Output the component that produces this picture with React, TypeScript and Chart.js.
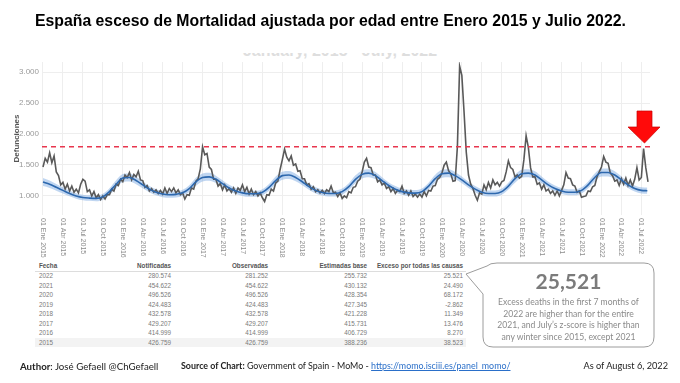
import React, { useEffect, useRef } from "react";
import { Chart, registerables } from "chart.js";
Chart.register(...registerables);

// Observed daily deaths (sampled ~every 10 days: 1st, 11th, 21st of each month)
const obs2015 = [1460, 1600, 1540, 1690, 1530, 1640, 1380, 1320, 1170, 1210, 1100, 1180, 1070, 1150, 1050, 1100, 1040, 1180, 1260, 1230, 1060, 1090, 990, 1060, 960, 1010, 930, 990, 940, 1010, 1010, 1100, 1070, 1180, 1160, 1260];
const obs2016 = [1220, 1330, 1290, 1370, 1250, 1340, 1300, 1390, 1250, 1240, 1130, 1160, 1070, 1110, 1050, 1090, 1030, 1080, 1020, 1120, 1030, 1110, 1060, 1120, 1040, 1090, 1010, 1040, 940, 1010, 1000, 1120, 1100, 1230, 1270, 1430];
const obs2017 = [1790, 1660, 1680, 1460, 1420, 1260, 1260, 1150, 1190, 1090, 1170, 1070, 1110, 1050, 1120, 1030, 1120, 1080, 1170, 1060, 1130, 1020, 1100, 1010, 1060, 990, 1040, 960, 900, 1010, 1000, 1100, 1070, 1200, 1230, 1420];
const obs2018 = [1580, 1750, 1620, 1560, 1640, 1490, 1510, 1390, 1400, 1270, 1270, 1170, 1190, 1100, 1140, 1060, 1090, 1040, 1080, 1030, 1090, 1060, 1150, 1040, 1050, 980, 1040, 950, 990, 960, 1060, 1040, 1130, 1140, 1230, 1260];
const obs2019 = [1380, 1540, 1600, 1460, 1450, 1330, 1330, 1220, 1250, 1170, 1200, 1110, 1140, 1060, 1110, 1030, 1080, 1060, 1150, 1030, 1070, 1000, 1070, 980, 1020, 970, 1020, 970, 1060, 990, 1080, 1070, 1150, 1160, 1260, 1290];
const obs2020 = [1360, 1490, 1540, 1400, 1350, 1230, 1240, 1800, 3100, 2950, 2350, 1700, 1330, 1180, 1110, 1000, 920, 1040, 1020, 1170, 1090, 1210, 1120, 1250, 1170, 1210, 1150, 1220, 1240, 1380, 1560, 1450, 1420, 1300, 1330, 1280];
const obs2021 = [1310, 1580, 1970, 1780, 1450, 1300, 1300, 1180, 1200, 1100, 1170, 1070, 1100, 1030, 1070, 1000, 1070, 990, 1080, 1170, 1370, 1280, 1270, 1170, 1150, 1050, 1070, 970, 980, 990, 1070, 1060, 1140, 1160, 1300, 1380];
const obs2022 = [1460, 1630, 1540, 1520, 1360, 1320, 1230, 1250, 1160, 1270, 1180, 1280, 1160, 1250, 1150, 1260, 1450, 1250, 1290, 1760, 1450, 1220];

// Expected baseline (monthly, Jan 2015 .. Aug 2022) and its confidence band
const baseline = [
  1215, 1180, 1130, 1080, 1030, 990, 965, 955, 950, 975, 1060, 1180,
  1280, 1290, 1240, 1170, 1100, 1050, 1020, 1010, 1015, 1040, 1110, 1220,
  1290, 1300, 1260, 1190, 1120, 1070, 1040, 1025, 1025, 1050, 1130, 1240,
  1320, 1330, 1290, 1220, 1140, 1080, 1045, 1030, 1030, 1060, 1140, 1260,
  1340, 1360, 1320, 1240, 1160, 1100, 1060, 1040, 1035, 1060, 1150, 1270,
  1350, 1360, 1320, 1250, 1170, 1100, 1050, 1030, 1030, 1060, 1150, 1270,
  1350, 1360, 1330, 1250, 1170, 1110, 1070, 1050, 1050, 1080, 1170, 1290,
  1370, 1370, 1330, 1250, 1170, 1110, 1080, 1075,
];
const bandLow = [
  1150, 1120, 1075, 1030, 985, 945, 920, 910, 905, 925, 1005, 1115,
  1215, 1225, 1180, 1115, 1050, 1000, 970, 960, 965, 990, 1055, 1155,
  1225, 1235, 1200, 1135, 1070, 1020, 990, 975, 975, 1000, 1075, 1175,
  1255, 1265, 1230, 1165, 1090, 1030, 995, 980, 980, 1010, 1085, 1195,
  1275, 1295, 1260, 1185, 1110, 1050, 1010, 990, 985, 1010, 1095, 1205,
  1285, 1295, 1260, 1195, 1120, 1050, 1000, 980, 980, 1010, 1095, 1205,
  1285, 1295, 1270, 1195, 1120, 1060, 1020, 1000, 1000, 1030, 1115, 1225,
  1305, 1305, 1270, 1195, 1120, 1060, 1030, 1025,
];
const bandHigh = [
  1280, 1240, 1185, 1130, 1075, 1035, 1010, 1000, 995, 1025, 1115, 1245,
  1345, 1355, 1300, 1225, 1150, 1100, 1070, 1060, 1065, 1090, 1165, 1285,
  1355, 1365, 1320, 1245, 1170, 1120, 1090, 1075, 1075, 1100, 1185, 1305,
  1385, 1395, 1350, 1275, 1190, 1130, 1095, 1080, 1080, 1110, 1195, 1325,
  1405, 1425, 1380, 1295, 1210, 1150, 1110, 1090, 1085, 1110, 1205, 1335,
  1415, 1425, 1380, 1305, 1220, 1150, 1100, 1080, 1080, 1110, 1205, 1335,
  1415, 1425, 1390, 1305, 1220, 1160, 1120, 1100, 1100, 1130, 1225, 1355,
  1435, 1435, 1390, 1305, 1220, 1160, 1130, 1125,
];

const threshold = 1790;
const yTicks = [1000, 1500, 2000, 2500, 3000];
const xTickMonths = [0, 3, 6, 9, 12, 15, 18, 21, 24, 27, 30, 33, 36, 39, 42, 45, 48, 51, 54, 57, 60, 63, 66, 69, 72, 75, 78, 81, 84, 87, 90];
const xTickLabels = [
  "01 Ene 2015", "01 Abr 2015", "01 Jul 2015", "01 Oct 2015",
  "01 Ene 2016", "01 Abr 2016", "01 Jul 2016", "01 Oct 2016",
  "01 Ene 2017", "01 Abr 2017", "01 Jul 2017", "01 Oct 2017",
  "01 Ene 2018", "01 Abr 2018", "01 Jul 2018", "01 Oct 2018",
  "01 Ene 2019", "01 Abr 2019", "01 Jul 2019", "01 Oct 2019",
  "01 Ene 2020", "01 Abr 2020", "01 Jul 2020", "01 Oct 2020",
  "01 Ene 2021", "01 Abr 2021", "01 Jul 2021", "01 Oct 2021",
  "01 Ene 2022", "01 Abr 2022", "01 Jul 2022",
];

// Table
const tableHeaders = ["Fecha", "Notificadas", "Observadas", "Estimadas base", "Exceso por todas las causas"];
const tableYears = ["2022", "2021", "2020", "2019", "2018", "2017", "2016", "2015"];
const notificadas = ["280.574", "454.622", "496.526", "424.483", "432.578", "429.207", "414.999", "426.759"];
const observadas = ["281.252", "454.622", "496.526", "424.483", "432.578", "429.207", "414.999", "426.759"];
const estimadas = ["255.732", "430.132", "428.354", "427.345", "421.228", "415.731", "406.729", "388.236"];
const exceso = ["25.521", "24.490", "68.172", "-2.862", "11.349", "13.476", "8.270", "38.523"];

const calloutNumber = "25,521";
const calloutLines = [
  "Excess deaths in the first 7 months of",
  "2022 are higher than for the entire",
  "2021, and July\u2019s z-score is higher than",
  "any winter since 2015, except 2021",
];

function fmtThousands(v: number) {
  return String(v).replace(/\B(?=(\d{3})+(?!\d))/g, ".");
}

function ChartCanvas() {
  const ref = useRef<HTMLCanvasElement | null>(null);
  useEffect(() => {
    if (!ref.current) return;
    const obsAll = [...obs2015, ...obs2016, ...obs2017, ...obs2018, ...obs2019, ...obs2020, ...obs2021, ...obs2022];
    const obsPts = obsAll.map((v, i) => ({ x: i / 3, y: v }));
    const last = baseline.length - 1;
    const basePts = baseline.map((v, i) => ({ x: i === last ? 90.9 : i, y: v }));
    const lowPts = bandLow.map((v, i) => ({ x: i === last ? 90.9 : i, y: v }));
    const highPts = bandHigh.map((v, i) => ({ x: i === last ? 90.9 : i, y: v }));

    const extras = {
      id: "extras",
      afterDatasetsDraw(chart: any) {
        const { ctx, chartArea, scales } = chart;
        const y = scales.y.getPixelForValue(threshold);
        ctx.save();
        ctx.strokeStyle = "#e8364e";
        ctx.lineWidth = 1.4;
        ctx.setLineDash([5, 4]);
        ctx.beginPath();
        ctx.moveTo(chartArea.left, y);
        ctx.lineTo(chartArea.right, y);
        ctx.stroke();
        ctx.restore();
      },
      afterDraw(chart: any) {
        const { ctx, chartArea, scales } = chart;
        ctx.save();
        ctx.fillStyle = "#8c8c8c";
        ctx.font = "7px 'Liberation Sans', Arial, sans-serif";
        ctx.textAlign = "left";
        ctx.textBaseline = "middle";
        xTickMonths.forEach((m, i) => {
          const x = scales.x.getPixelForValue(m);
          ctx.save();
          ctx.translate(x, chartArea.bottom + 3);
          ctx.rotate(Math.PI / 2);
          ctx.fillText(xTickLabels[i], 0, 0);
          ctx.restore();
        });
        ctx.restore();
      },
    };

    const chart = new Chart(ref.current, {
      type: "line",
      data: {
        datasets: [
          { label: "base", data: basePts, borderColor: "#2d68ae", borderWidth: 1.6, pointRadius: 0, fill: false, tension: 0.4, cubicInterpolationMode: "monotone", order: 0 } as any,
          { label: "obs", data: obsPts, borderColor: "#595959", borderWidth: 1.6, pointRadius: 0, fill: false, tension: 0, order: 1 } as any,
          { label: "low", data: lowPts, borderWidth: 0, borderColor: "rgba(0,0,0,0)", pointRadius: 0, fill: false, cubicInterpolationMode: "monotone", order: 3 } as any,
          { label: "high", data: highPts, borderWidth: 0, borderColor: "rgba(0,0,0,0)", pointRadius: 0, fill: "-1", backgroundColor: "rgba(115,163,224,0.45)", cubicInterpolationMode: "monotone", order: 2 } as any,
        ],
      },
      options: {
        animation: false,
        responsive: true,
        maintainAspectRatio: false,
        layout: { padding: { left: 8, right: 30, top: 62, bottom: 47 } },
        plugins: { legend: { display: false }, tooltip: { enabled: false } },
        scales: {
          x: {
            type: "linear",
            min: -0.15,
            max: 91.3,
            grid: { color: "#eeeeee", drawTicks: false },
            border: { display: false },
            ticks: { display: false },
            afterBuildTicks: (s: any) => { s.ticks = xTickMonths.map((v) => ({ value: v })); },
            afterFit: (s: any) => { s.height = 0; },
          },
          y: {
            min: 680,
            max: 3167,
            grid: { color: "#eeeeee", drawTicks: false },
            border: { display: false },
            ticks: {
              color: "#9a9a9a",
              font: { size: 8, family: "'Liberation Sans', Arial, sans-serif" },
              padding: 3,
              callback: (v: any) => fmtThousands(Number(v)),
            },
            afterBuildTicks: (s: any) => { s.ticks = yTicks.map((v) => ({ value: v })); },
            afterFit: (s: any) => { s.width = 34; },
            title: {
              display: true,
              text: "Defunciones",
              color: "#555555",
              font: { size: 8, weight: "bold", family: "'Liberation Sans', Arial, sans-serif" },
              padding: { top: 4, bottom: 0 },
            },
          },
        },
      },
      plugins: [extras],
    } as any);
    return () => chart.destroy();
  }, []);
  return (
    <div style={{ position: "absolute", left: 0, top: 0, width: 680, height: 262 }}>
      <canvas ref={ref} />
    </div>
  );
}

const colRight = [0, 171, 268, 367, 463];
const rowY0 = 276;
const rowH = 9.55;

export default function App() {
  const txt = "'Liberation Sans', Arial, sans-serif";
  const cal = "Lato, 'Open Sans', sans-serif";
  const cols = [tableYears, notificadas, observadas, estimadas, exceso];
  return (
    <div style={{ position: "absolute", left: 0, top: 0, width: 680, height: 383, background: "#ffffff", overflow: "hidden", fontFamily: txt }}>
      {/* faint clipped original title */}
      <div style={{ position: "absolute", left: 0, top: 53, width: 680, height: 8, overflow: "hidden" }}>
        <div style={{ position: "absolute", left: 0, width: 680, top: -11, textAlign: "center", fontWeight: "bold", fontSize: 16, color: "#dedede", whiteSpace: "nowrap" }}>
          January, 2015 - July, 2022
        </div>
      </div>
      <ChartCanvas />
      <div style={{ position: "absolute", left: 35, top: 12, fontWeight: "bold", fontSize: 15.8, color: "#000", whiteSpace: "nowrap" }}>
        España esceso de Mortalidad ajustada por edad entre Enero 2015 y Julio 2022.
      </div>

      {/* table */}
      <div style={{ position: "absolute", left: 35, top: 270.5, width: 431, height: 1, background: "#dddddd" }} />
      <div style={{ position: "absolute", left: 35, top: rowY0 + 7 * rowH - 5, width: 431, height: rowH, background: "#f3f3f3" }} />
      {tableHeaders.map((h, c) => (
        <div key={h} style={{
          position: "absolute", top: 262, fontSize: 6.3, fontWeight: "bold", color: "#555", whiteSpace: "nowrap",
          ...(c === 0 ? { left: 39 } : { right: 680 - colRight[c] }),
        }}>{h}</div>
      ))}
      {tableYears.map((_, r) =>
        cols.map((col, c) => (
          <div key={r + "-" + c} style={{
            position: "absolute", top: rowY0 + r * rowH - 4, fontSize: 6.3, color: "#7a7a7a", whiteSpace: "nowrap",
            ...(c === 0 ? { left: 39 } : { right: 680 - colRight[c] }),
          }}>{col[r]}</div>
        ))
      )}

      {/* callout + arrow */}
      <svg width={680} height={383} style={{ position: "absolute", left: 0, top: 0, pointerEvents: "none" }}>
        <path d="M 497 263 H 644 Q 654 263 654 273 V 337 Q 654 347 644 347 H 493 Q 483 347 483 337 V 294 L 466 274 L 487 266 Q 490 263 497 263 Z"
          fill="#ffffff" stroke="#9c9c9c" strokeWidth={1} />
        <polygon points="637,111 652,111 652,127 660,127 644.5,143 628,127 637,127" fill="#ff0a0a" stroke="#c80000" strokeWidth={0.7} />
      </svg>
      <div style={{ position: "absolute", left: 483, width: 171, top: 268, textAlign: "center", fontFamily: cal, fontWeight: "bold", fontSize: 21, color: "#7b7b7b", lineHeight: "26px" }}>
        {calloutNumber}
      </div>
      {calloutLines.map((l, i) => (
        <div key={i} style={{ position: "absolute", left: 483, width: 171, top: 296 + i * 11.6, textAlign: "center", fontFamily: cal, fontSize: 8.6, color: "#8a8a8a", lineHeight: "12px", whiteSpace: "nowrap" }}>
          {l}
        </div>
      ))}

      {/* footer */}
      <div style={{ position: "absolute", left: 20, top: 360, fontFamily: cal, fontSize: 9.7, color: "#222", whiteSpace: "nowrap" }}>
        <b>Author</b>: José Gefaell @ChGefaell
      </div>
      <div style={{ position: "absolute", left: 181, top: 360, fontFamily: cal, fontSize: 8.9, color: "#222", whiteSpace: "nowrap" }}>
        <b>Source of Chart:</b> Government of Spain - MoMo - <span style={{ color: "#2a6fc9", textDecoration: "underline" }}>https://momo.isciii.es/panel_momo/</span>
      </div>
      <div style={{ position: "absolute", right: 12, top: 360, fontFamily: cal, fontSize: 9.2, color: "#222", whiteSpace: "nowrap" }}>
        As of August 6, 2022
      </div>
    </div>
  );
}
